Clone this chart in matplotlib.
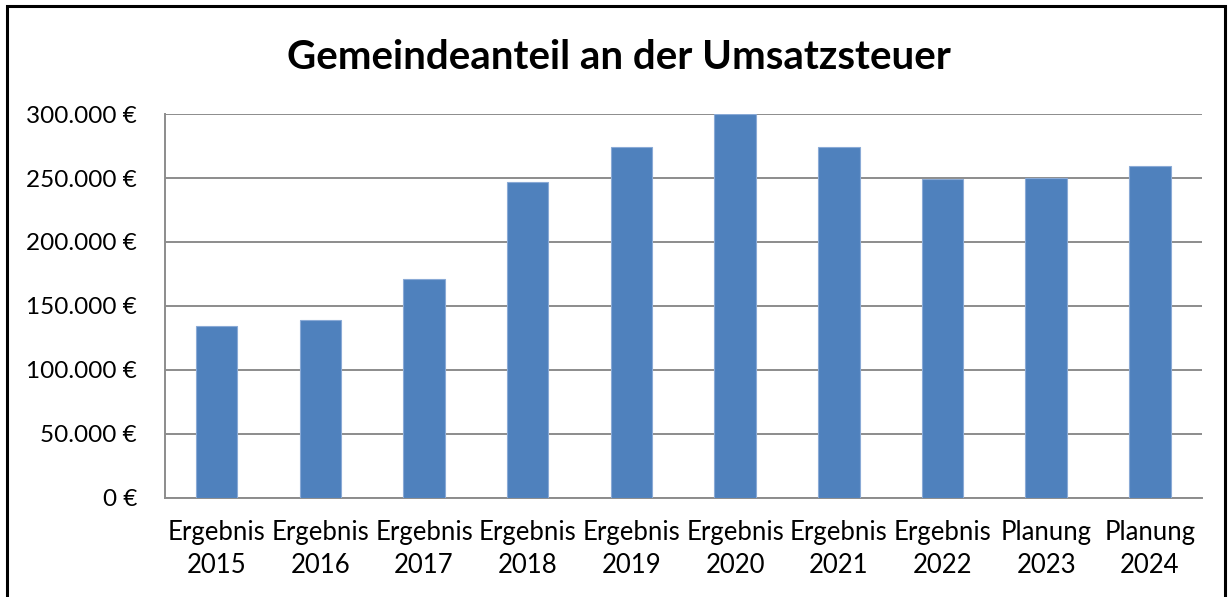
import matplotlib
matplotlib.use("Agg")
import matplotlib.pyplot as plt
from matplotlib.patches import Rectangle
from matplotlib.ticker import FuncFormatter

kategorien = ["Ergebnis\n2015", "Ergebnis\n2016", "Ergebnis\n2017", "Ergebnis\n2018",
              "Ergebnis\n2019", "Ergebnis\n2020", "Ergebnis\n2021", "Ergebnis\n2022",
              "Planung\n2023", "Planung\n2024"]
werte = [134000, 139000, 171000, 247000, 274000, 300000, 274000, 249000, 250000, 259000]
y_ticks = [0, 50000, 100000, 150000, 200000, 250000, 300000]

plt.rcParams['font.family'] = ['Lato', 'DejaVu Sans']

fig = plt.figure(figsize=(12.3, 5.97), dpi=100)
ax = fig.add_axes([0.134, 0.166, 0.843, 0.643])

x = range(len(werte))
ax.bar(x, werte, width=0.4, color='#4F81BD', edgecolor='#8AAAD6', linewidth=0.8, zorder=3)

ax.set_xlim(-0.5, len(werte) - 0.5)
ax.set_ylim(0, 300000)
ax.set_yticks(y_ticks)
ax.yaxis.set_major_formatter(FuncFormatter(lambda v, p: f"{int(v):,} €".replace(",", ".")))
ax.set_xticks(list(x))
ax.set_xticklabels(kategorien, linespacing=1.4, fontsize=18.5)
ax.tick_params(axis='both', length=0, colors='black')
ax.tick_params(axis='y', labelsize=17.5, pad=20)
ax.tick_params(axis='x', pad=16)

ax.grid(axis='y', color='#8c8c8c', linewidth=1.4, zorder=0)
for s in ['top', 'right']:
    ax.spines[s].set_visible(False)
for s in ['left', 'bottom']:
    ax.spines[s].set_color('#8c8c8c')
    ax.spines[s].set_linewidth(1.4)

fig.text(0.503, 0.903, "Gemeindeanteil an der Umsatzsteuer", ha='center', va='center',
         fontsize=29, fontweight='bold')

fig.patches.append(Rectangle((0.006, -0.01), 0.99, 1.0, transform=fig.transFigure,
                             fill=False, edgecolor='black', linewidth=2.2))

fig.savefig("out.png", dpi=100)
